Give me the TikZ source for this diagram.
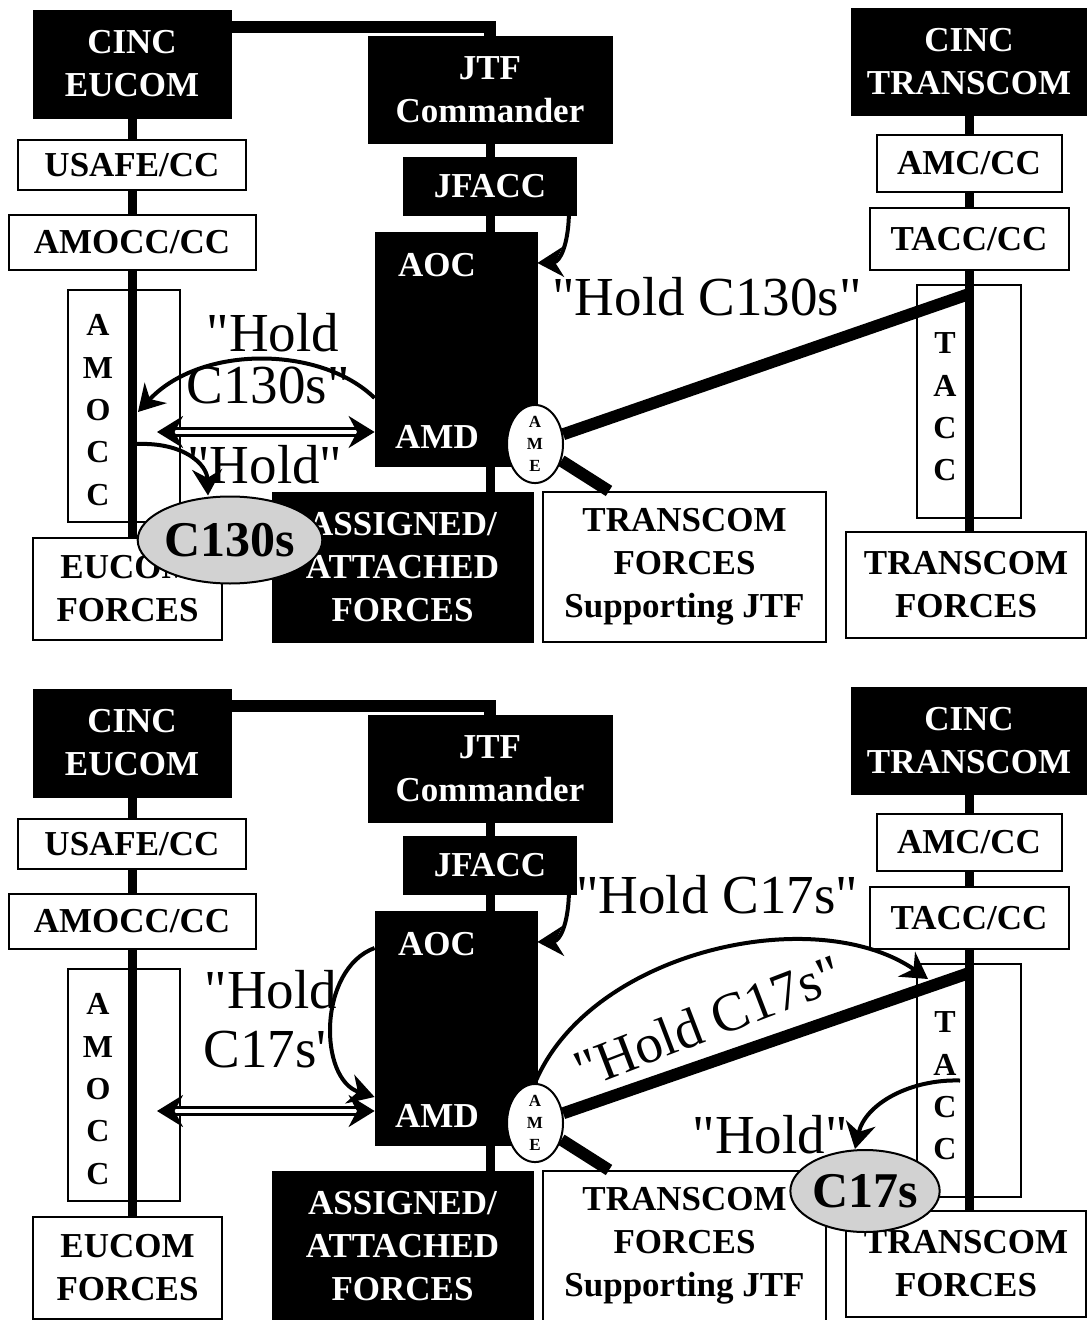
\documentclass[tikz,border=0pt]{standalone}
\usepackage{fontspec}
\setmainfont{Liberation Serif}[Ligatures=TeXOff]
\usetikzlibrary{positioning,shapes.geometric,arrows.meta}

\tikzset{
  blackbox/.style={draw=black, fill=black, text=white, align=center, inner sep=0pt,
    font=\bfseries\fontsize{17.5}{21.5}\selectfont},
  whitebox/.style={draw=black, line width=1pt, fill=white, align=center, inner sep=0pt,
    font=\bfseries\fontsize{17.5}{21.5}\selectfont},
  boxtext/.style={text=white, inner sep=3pt, font=\bfseries\fontsize{17.5}{21.5}\selectfont},
  vletters/.style={inner sep=0pt, align=center, font=\bfseries\fontsize{16}{21.2}\selectfont},
  amecircle/.style={ellipse, draw=black, line width=1pt, fill=white, align=center, inner sep=0pt,
    minimum width=28pt, minimum height=37pt, font=\bfseries\fontsize{8.5}{11}\selectfont},
  spine/.style={line width=4.5pt},
  link/.style={line width=6pt},
  holdarrow/.style={line width=2pt, -{Stealth[length=13pt,width=15pt]}},
  twoway/.style={line width=1.4pt, double, double distance=2pt,
    {Stealth[length=13pt,width=16pt]}-{Stealth[length=13pt,width=16pt]}},
  holdtext/.style={inner sep=0pt, font=\fontsize{27.5}{30}\selectfont},
  plane/.style={ellipse, draw=black, line width=1pt, fill=gray!35, inner sep=0pt,
    font=\bfseries\fontsize{25}{28}\selectfont},
}

\newcommand{\orgchart}{%
  \node[blackbox, minimum width=99pt, minimum height=54pt] (ceucom) at (132,64) {CINC\\EUCOM};
  \node[whitebox, minimum width=114pt, minimum height=25pt] (usafe) at (132,165) {USAFE/CC};
  \node[whitebox, minimum width=123.5pt, minimum height=27.5pt] (amoccc) at (132,242.5) {AMOCC/CC};
  \node[whitebox, minimum width=56pt, minimum height=116pt] (amocc) at (124,406) {};
  \node[vletters] (amoccl) at (98,410) {A\\M\\O\\C\\C};
  \node[whitebox, minimum width=94.5pt, minimum height=51pt] (eforces) at (127.5,589) {EUCOM\\FORCES};

  \node[blackbox, minimum width=122pt, minimum height=53.5pt] (jtf) at (490,89.5) {JTF\\Commander};
  \node[blackbox, minimum width=86.5pt, minimum height=29pt] (jfacc) at (490,186) {JFACC};
  \node[blackbox, minimum width=81pt, minimum height=117pt] (aocbox) at (456,349) {};
  \node[boxtext] (aoc) at (437,265) {AOC};
  \node[boxtext] (amd) at (437,437) {AMD};
  \node[blackbox, minimum width=130.5pt, minimum height=75pt] (assigned) at (402.5,567) {ASSIGNED/\\ATTACHED\\FORCES};
  \node[whitebox, minimum width=141.5pt, minimum height=75pt] (tsforces) at (684.5,567) {TRANSCOM\\FORCES\\Supporting JTF};
  \node[amecircle] (ame) at (535,444) {A\\M\\E};

  \node[blackbox, minimum width=118pt, minimum height=53.5pt] (ctranscom) at (969,61.5) {CINC\\TRANSCOM};
  \node[whitebox, minimum width=92.5pt, minimum height=28.5pt] (amc) at (969,163.5) {AMC/CC};
  \node[whitebox, minimum width=99.5pt, minimum height=31pt] (taccc) at (969,239) {TACC/CC};
  \node[whitebox, minimum width=52pt, minimum height=116.5pt] (tacc) at (969,401.5) {};
  \node[vletters] (taccl) at (945,407) {T\\A\\C\\C};
  \node[whitebox, minimum width=120pt, minimum height=53pt] (tforces) at (966,585) {TRANSCOM\\FORCES};

  \draw[spine] (ceucom) -- (usafe);
  \draw[spine] (usafe) -- (amoccc);
  \draw[spine] (amoccc.south) -- (amoccc.south |- eforces.north);
  \draw[spine] (jtf) -- (jfacc);
  \draw[spine] (jfacc.south) -- (jfacc.south |- aocbox.north);
  \draw[spine] (jfacc.south |- aocbox.south) -- (jfacc.south |- assigned.north);
  \draw[spine, line width=6pt] ([yshift=-8.5pt]ceucom.north east) -| (jtf.north);
  \draw[spine] (ctranscom) -- (amc);
  \draw[spine] (amc) -- (taccc);
  \draw[spine] (taccc.south) -- (taccc.south |- tforces.north);

  \draw[link] (ame) -- ([yshift=-5pt]tacc.north);
  \draw[link] (ame) -- ([xshift=33.5pt]tsforces.north west);

  \draw[twoway] ([xshift=16.5pt,yshift=-13pt]amocc.center) -- ([yshift=-41.5pt]aocbox.west);
  \draw[holdarrow] ([xshift=-4pt]jfacc.south east) .. controls (568,245) and (560,262) .. ([yshift=43pt]aocbox.east);
}

\begin{document}
\begin{tikzpicture}[x=0.5pt, y=-0.5pt]
  \useasboundingbox (0,0) rectangle (1086,1320);

  \begin{scope}[name prefix=t-]
    \orgchart
    \node[holdtext] (holdjf) at (707,297) {"Hold C130s"};
    \draw[holdarrow] ([yshift=-24.5pt]aocbox.west) .. controls (320,345) and (200,345) .. ([xshift=7pt,yshift=-3pt]amocc.center);
    \node[holdtext] (holdup) at (273,333) {"Hold};
    \node[holdtext] (holdlow) at (268,385) {C130s"};
    \node[plane, minimum width=59.5pt, minimum height=43.5pt] (c130) at (230,540) {C130s};
    \draw[holdarrow] ([xshift=6pt,yshift=-19pt]amocc.center) .. controls (185,442) and (207,465) .. ([xshift=-11pt]c130.north);
    \node[holdtext] (holdc130) at (265,465) {"Hold"};
  \end{scope}

  \begin{scope}[yshift=-339.5pt, name prefix=b-]
    \orgchart
    \node[holdtext] (holdjf) at (717,216) {"Hold C17s"};
    \node[holdtext] (holdup) at (271,311) {"Hold};
    \node[holdtext] (holdlow) at (265,371) {C17s'};
    \draw[holdarrow] ([yshift=40pt]aocbox.west) .. controls (318,290) and (318,400) .. ([yshift=-34.5pt]aocbox.west);
    \draw[holdarrow] (ame.north) .. controls (590,272) and (815,222) .. ([xshift=6pt,yshift=-8pt]tacc.north west);
    \node[holdtext, rotate=21] (holdtacc) at (708,342) {"Hold C17s"};
    \node[plane, minimum width=57pt, minimum height=41pt] (c17) at (865,512) {C17s};
    \draw[holdarrow] ([xshift=-4.5pt]tacc.center) .. controls (910,400) and (865,425) .. ([xshift=-5pt]c17.north);
    \node[holdtext] (holdc17) at (770,456) {"Hold"};
  \end{scope}
\end{tikzpicture}
\end{document}
